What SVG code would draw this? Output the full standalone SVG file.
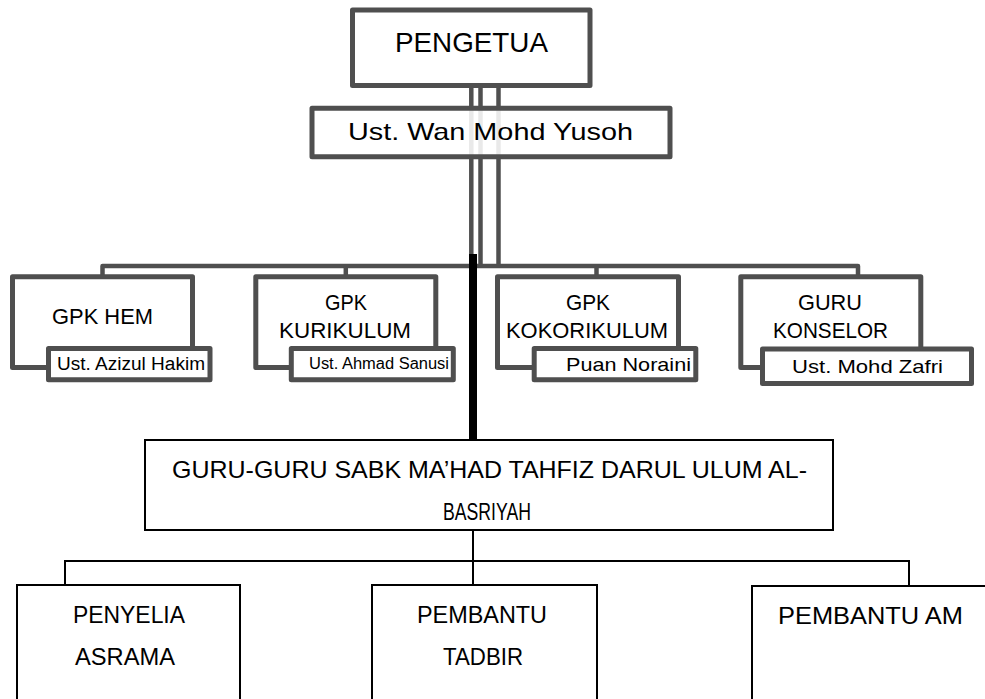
<svg xmlns="http://www.w3.org/2000/svg" width="985" height="699" viewBox="0 0 985 699">
<style>
.g{fill:#fff;stroke:#4f4f4f;stroke-width:5;stroke-linejoin:round}
.k{fill:#fff;stroke:#000;stroke-width:2}
.gl{fill:none;stroke:#4f4f4f;stroke-width:4.5;stroke-linejoin:round}
.bl{fill:none;stroke:#000;stroke-width:2}
text{font-family:"Liberation Sans",Arial,sans-serif;fill:#000;text-anchor:start}
</style>
<rect width="985" height="699" fill="#fff"/>
<g id="connectors">
<line class="gl" x1="471.3" y1="85" x2="471.3" y2="266" stroke-width="4"/>
<line class="gl" x1="480.5" y1="85" x2="480.5" y2="266" stroke-width="4"/>
<line class="gl" x1="498.5" y1="85" x2="498.5" y2="266" stroke-width="4"/>
<path class="gl" d="M102.5,277 V266 H858 V277"/>
<line class="gl" x1="345.8" y1="266" x2="345.8" y2="277"/>
<line class="gl" x1="596.5" y1="266" x2="596.5" y2="277"/>
<line x1="473" y1="254" x2="473" y2="440" stroke="#000" stroke-width="8"/>
<line class="bl" x1="473" y1="530" x2="473" y2="585"/>
<path class="bl" d="M65,585 V561 H909 V586"/>
</g>
<g id="pengetua">
<rect class="g" x="352.5" y="10" width="237.5" height="75.5"/>
<text x="395" y="52" font-size="28" textLength="153" lengthAdjust="spacingAndGlyphs">PENGETUA</text>
</g>
<g id="wan-mohd-yusoh">
<rect class="g" x="312" y="108.3" width="358" height="48.4" fill-opacity="0.88"/>
<text x="348" y="140" font-size="24" textLength="285" lengthAdjust="spacingAndGlyphs">Ust. Wan Mohd Yusoh</text>
</g>
<g id="gpk-hem">
<rect class="g" x="12.5" y="276.7" width="180" height="90.8"/>
<text x="52" y="324" font-size="22" textLength="101" lengthAdjust="spacingAndGlyphs">GPK HEM</text>
<rect class="g" x="48.5" y="348.5" width="161.5" height="31.3"/>
<text x="57" y="370" font-size="18" textLength="148" lengthAdjust="spacingAndGlyphs">Ust. Azizul Hakim</text>
</g>
<g id="gpk-kurikulum">
<rect class="g" x="255.8" y="276.7" width="180" height="90.8"/>
<text x="325" y="310" font-size="22" textLength="42" lengthAdjust="spacingAndGlyphs">GPK</text>
<text x="279" y="338" font-size="22" textLength="132" lengthAdjust="spacingAndGlyphs">KURIKULUM</text>
<rect class="g" x="291.3" y="348.5" width="162" height="31.3"/>
<text x="309" y="369" font-size="16" textLength="140" lengthAdjust="spacingAndGlyphs">Ust. Ahmad Sanusi</text>
</g>
<g id="gpk-kokorikulum">
<rect class="g" x="497.5" y="276.7" width="181" height="90.8"/>
<text x="566" y="310" font-size="22" textLength="44" lengthAdjust="spacingAndGlyphs">GPK</text>
<text x="506" y="338" font-size="22" textLength="162" lengthAdjust="spacingAndGlyphs">KOKORIKULUM</text>
<rect class="g" x="534.2" y="348.5" width="161.6" height="31.3"/>
<text x="566" y="371" font-size="19" textLength="125" lengthAdjust="spacingAndGlyphs">Puan Noraini</text>
</g>
<g id="guru-konselor">
<rect class="g" x="740.8" y="276.7" width="180" height="90.8"/>
<text x="798" y="310" font-size="22" textLength="64" lengthAdjust="spacingAndGlyphs">GURU</text>
<text x="773" y="338" font-size="22" textLength="115" lengthAdjust="spacingAndGlyphs">KONSELOR</text>
<rect class="g" x="762.5" y="349" width="209" height="34.5"/>
<text x="792" y="373" font-size="19" textLength="151" lengthAdjust="spacingAndGlyphs">Ust. Mohd Zafri</text>
</g>
<g id="guru-guru">
<rect class="k" x="145" y="440" width="688" height="90"/>
<text x="172" y="478" font-size="24" textLength="635" lengthAdjust="spacingAndGlyphs">GURU-GURU SABK MA’HAD TAHFIZ DARUL ULUM AL-</text>
<text x="443" y="520" font-size="24" textLength="88" lengthAdjust="spacingAndGlyphs">BASRIYAH</text>
</g>
<g id="penyelia-asrama">
<rect class="k" x="17" y="585" width="223" height="130"/>
<text x="73" y="623" font-size="24" textLength="112" lengthAdjust="spacingAndGlyphs">PENYELIA</text>
<text x="75" y="665" font-size="24" textLength="100" lengthAdjust="spacingAndGlyphs">ASRAMA</text>
</g>
<g id="pembantu-tadbir">
<rect class="k" x="372" y="585" width="225" height="130"/>
<text x="417" y="623" font-size="24" textLength="130" lengthAdjust="spacingAndGlyphs">PEMBANTU</text>
<text x="443" y="665" font-size="24" textLength="80" lengthAdjust="spacingAndGlyphs">TADBIR</text>
</g>
<g id="pembantu-am">
<rect class="k" x="752" y="586" width="250" height="130"/>
<text x="778" y="624" font-size="24" textLength="185" lengthAdjust="spacingAndGlyphs">PEMBANTU AM</text>
</g>
</svg>
